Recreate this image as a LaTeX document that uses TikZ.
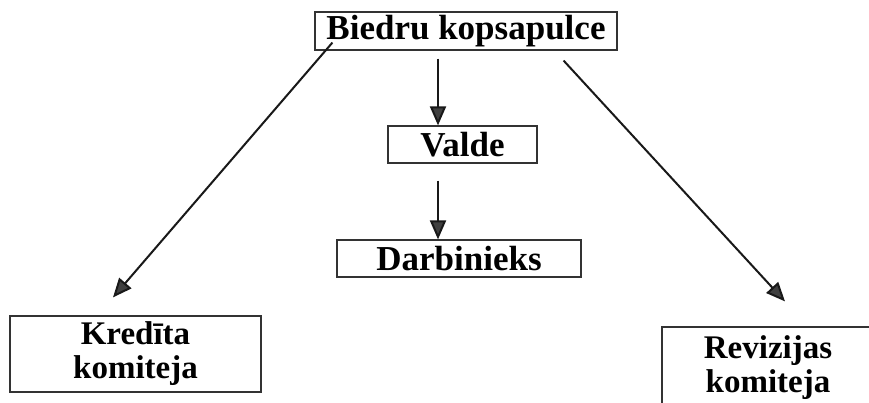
\documentclass[tikz,border=0pt]{standalone}
\usepackage{fontspec}
\setmainfont{Liberation Serif}
\usetikzlibrary{arrows.meta}
\begin{document}
\begin{tikzpicture}[x=1pt,y=-1pt]
	\useasboundingbox (0,0) rectangle (869,403);
	\begin{scope}[every node/.style={draw=black!80,line width=1.2pt,inner sep=0pt,align=center,font=\bfseries\fontsize{35}{36}\selectfont}]
		\node[minimum width=302pt,minimum height=38pt] (biedru) at (466,31) {Biedru kopsapulce};
		\node[minimum width=149pt,minimum height=37pt] (valde) at (462.5,144.5) {Valde};
		\node[minimum width=244pt,minimum height=37pt] (darb) at (459,258.5) {Darbinieks};
		\node[minimum width=251pt,minimum height=76pt,font=\bfseries\fontsize{33}{34}\selectfont] (kred) at (135.5,354) {Kredīta\\komiteja};
		\node[minimum width=212pt,minimum height=82pt,font=\bfseries\fontsize{33}{34}\selectfont] (rev) at (768,368) {Revizijas\\komiteja};
	\end{scope}
	
	\begin{scope}[every edge/.style={draw=black!90,line width=2pt,-{Triangle[length=19pt,width=16pt,fill=black!75]}}]
		\path ([xshift=-28pt,yshift=-8pt]biedru.south) edge ([xshift=-24.5pt]valde.north);
		\path ([xshift=-24.5pt,yshift=-17pt]valde.south) edge ([xshift=-21pt]darb.north);
		\path [line width=2.4pt] ([xshift=18pt,yshift=8pt]biedru.south west) edge ([xshift=-22.5pt,yshift=18pt]kred.north);
		\path [line width=2.4pt] ([xshift=-54pt,yshift=-10pt]biedru.south east) edge ([xshift=17pt,yshift=25pt]rev.north);
	\end{scope}
\end{tikzpicture}
\end{document}
